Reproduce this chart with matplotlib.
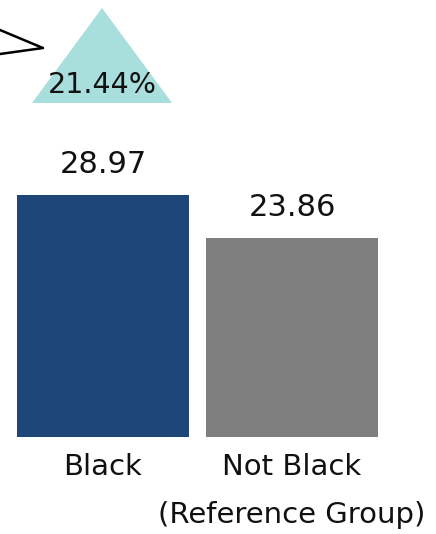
import matplotlib.pyplot as plt
from matplotlib.patches import Polygon

# data
groups = ['Black', 'Not Black\n(Reference Group)']
values = [28.97, 23.86]
bar_colors = ['#1F4678', '#7F7F7F']
pct_label = '21.44%'

plt.rcParams['font.family'] = ['DejaVu Sans']

fig = plt.figure(figsize=(4.36, 5.34), dpi=100)
ax = fig.add_axes([0, 0, 1, 1])

# x in pixel-like layout units, y in data units (zero at 437px from top)
px_per_unit = 8.35
ax.set_xlim(0, 436)
ax.set_ylim(-97 / px_per_unit, (534 - 97) / px_per_unit)

xpos = [103, 292]
bars = ax.bar(xpos, values, width=172, color=bar_colors)

for x, v in zip(xpos, values):
    ax.text(x, v + 2.65, f'{v:.2f}', ha='center', va='baseline', fontsize=22, color='#111111')

# category labels, one line at a time
line_gap = 48 / px_per_unit
for x, g in zip(xpos, groups):
    for i, line in enumerate(g.split('\n')):
        ax.text(x, -4.55 - i * line_gap, line, ha='center', va='baseline',
                fontsize=21, color='#111111')

# triangle callout at top
tri = Polygon([(102 / 436, 1 - 8 / 534), (32 / 436, 1 - 103 / 534), (172 / 436, 1 - 103 / 534)],
              closed=True, transform=fig.transFigure, facecolor='#A8DEDB', edgecolor='none')
fig.patches.append(tri)
fig.text(102 / 436, 1 - 93 / 534, pct_label, ha='center', va='baseline', fontsize=20.5, color='#111111')

# chevron on the left edge
fig.add_artist(plt.Line2D([0, 43 / 436, 0], [1 - 30 / 534, 1 - 48 / 534, 1 - 54 / 534],
                          transform=fig.transFigure, color='black', lw=1.8))

ax.axis('off')
fig.savefig('out.png', dpi=100)
